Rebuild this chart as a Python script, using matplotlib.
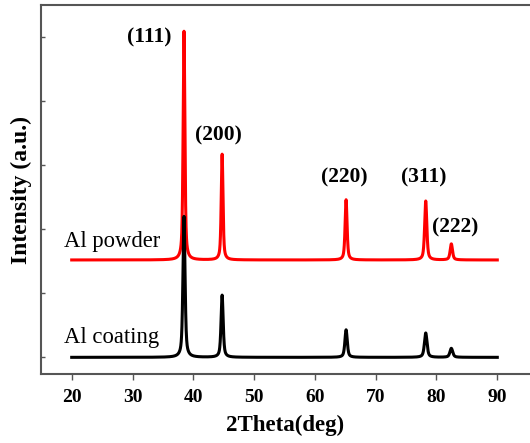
import numpy as np
import matplotlib
matplotlib.use("Agg")
import matplotlib.pyplot as plt

# Peak data
hkl_labels = ["(111)", "(200)", "(220)", "(311)", "(222)"]
peak_pos = [38.47, 44.74, 65.13, 78.23, 82.44]
powder_heights = [3.57, 1.65, 0.94, 0.92, 0.25]
coating_heights = [2.20, 0.97, 0.43, 0.38, 0.14]
powder_offset = 1.52
coating_offset = 0.0
peak_fwhm = [0.34, 0.34, 0.38, 0.42, 0.45]
label_x = [32.7, 44.2, 64.8, 77.9, 83.0]
label_y = [5.0, 3.47, 2.80, 2.80, 2.02]
x_ticks = [20, 30, 40, 50, 60, 70, 80, 90]
y_ticks = [0, 1, 2, 3, 4, 5]

two_theta = np.linspace(20, 90, 7001)


def profile(x, centers, heights, widths, eta=0.6):
    y = np.zeros_like(x)
    for c, h, w in zip(centers, heights, widths):
        g = np.exp(-4 * np.log(2) * ((x - c) / w) ** 2)
        l = 1.0 / (1.0 + 4 * ((x - c) / w) ** 2)
        y += h * (eta * l + (1 - eta) * g)
    return y


powder = powder_offset + profile(two_theta, peak_pos, powder_heights, peak_fwhm)
coating = coating_offset + profile(two_theta, peak_pos, coating_heights,
                                   [w * 1.2 for w in peak_fwhm])

fig = plt.figure(figsize=(5.30, 4.43), dpi=100)
ax = fig.add_axes([41 / 530, 1 - 374 / 443, (530 - 41) / 530, (374 - 5) / 443])

ax.plot(two_theta, powder, color="#ff0000", lw=2.2)
ax.plot(two_theta, coating, color="#000000", lw=2.2)

ax.set_xlim(14.95, 95.38)
ax.set_ylim(-0.26, 5.5)

serif = ["Liberation Serif", "DejaVu Serif"]
ax.set_xticks(x_ticks)
ax.set_xticklabels([str(t) for t in x_ticks], fontfamily=serif,
                   fontweight="bold", fontsize=14)
ax.set_yticks(y_ticks)
ax.set_yticklabels([])
ax.tick_params(axis="x", direction="out", length=4, width=1, color="#555555", pad=7)
ax.tick_params(axis="y", direction="in", length=3, width=1, color="#555555")

for side in ["left", "bottom", "top"]:
    ax.spines[side].set_color("#555555")
    ax.spines[side].set_linewidth(1.5)
ax.spines["right"].set_visible(False)

ax.set_xlabel("2Theta(deg)", fontfamily=serif, fontweight="bold", fontsize=16.5,
              labelpad=6)
ax.set_ylabel("Intensity (a.u.)", fontfamily=serif, fontweight="bold",
              fontsize=17, labelpad=3)

for lab, lx, ly in zip(hkl_labels, label_x, label_y):
    ax.text(lx, ly, lab, ha="center", va="center", fontfamily=serif,
            fontweight="bold", fontsize=15.5)

ax.text(18.7, 1.72, "Al powder", ha="left", va="baseline", fontfamily=serif,
        fontsize=16.3)
ax.text(18.7, 0.23, "Al coating", ha="left", va="baseline", fontfamily=serif,
        fontsize=16.3)

fig.savefig("out.png", dpi=100)
